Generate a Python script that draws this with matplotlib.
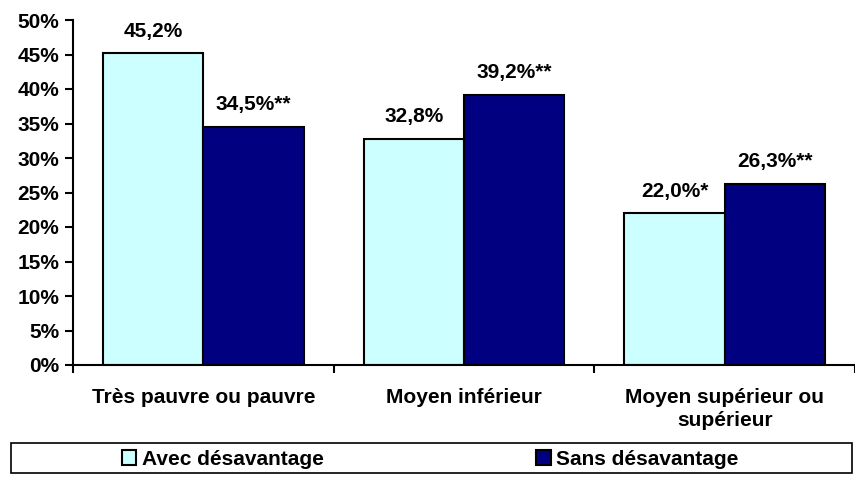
import matplotlib
matplotlib.use("Agg")
import matplotlib.pyplot as plt
import numpy as np
from matplotlib.patches import Rectangle

categories = ["Très pauvre ou pauvre", "Moyen inférieur", "Moyen supérieur ou\nsupérieur"]
avec = [45.2, 32.8, 22.0]
sans = [34.5, 39.2, 26.3]
avec_labels = ["45,2%", "32,8%", "22,0%*"]
sans_labels = ["34,5%**", "39,2%**", "26,3%**"]
series_names = ["Avec désavantage", "Sans désavantage"]
yticks = [0, 5, 10, 15, 20, 25, 30, 35, 40, 45, 50]

plt.rcParams['font.family'] = ['Liberation Sans', 'DejaVu Sans']
plt.rcParams['font.weight'] = 'bold'
plt.rcParams['font.size'] = 15

fig = plt.figure(figsize=(8.55, 4.8), dpi=100)
ax = fig.add_axes([73 / 855, 1 - 365 / 480, 1 - 73 / 855, 345 / 480])

x = np.arange(len(categories))
w = 0.385
b1 = ax.bar(x - w / 2, avec, w, color='#CCFFFF', edgecolor='black', linewidth=1.5, label=series_names[0])
b2 = ax.bar(x + w / 2, sans, w, color='#000080', edgecolor='black', linewidth=1.5, label=series_names[1])

for bars, labels in [(b1, avec_labels), (b2, sans_labels)]:
    for rect, lab in zip(bars, labels):
        ax.annotate(lab, (rect.get_x() + rect.get_width() / 2, rect.get_height()),
                    xytext=(0, 9), textcoords='offset points', ha='center', va='bottom',
                    fontweight='bold', fontsize=15)

ax.set_xlim(-0.5, len(categories) - 0.5)
ax.set_ylim(0, 50)
ax.set_yticks(yticks)
ax.set_yticklabels([f"{t}%" for t in yticks], fontweight='bold')

# category ticks at boundaries, labels centered
ax.set_xticks(np.arange(len(categories) + 1) - 0.5)
ax.set_xticklabels([])
ax.set_xticks(x, minor=True)
ax.set_xticklabels(categories, minor=True, fontweight='bold', linespacing=1.25)
ax.tick_params(axis='x', which='minor', length=0, pad=16.5)
ax.tick_params(axis='x', which='major', length=6, width=1.5, direction='out')
ax.tick_params(axis='y', length=6, width=1.5, direction='out', pad=4)

for s in ['top', 'right']:
    ax.spines[s].set_visible(False)
ax.spines['left'].set_linewidth(1.5)
ax.spines['bottom'].set_linewidth(1.5)

# legend box
fig.patches.append(Rectangle((11 / 855, 1 - 473 / 480), 841 / 855, 30 / 480,
                             transform=fig.transFigure, fill=False, edgecolor='black',
                             linewidth=1.2))
fig.legend(handles=[b1, b2], labels=series_names, loc='center',
           bbox_to_anchor=(430 / 855, 1 - 459.5 / 480), ncol=2, frameon=False,
           handlelength=0.7, handleheight=0.7, handletextpad=0.25,
           columnspacing=10.2, prop={'weight': 'bold', 'size': 15})

fig.savefig("out.png", dpi=100)
